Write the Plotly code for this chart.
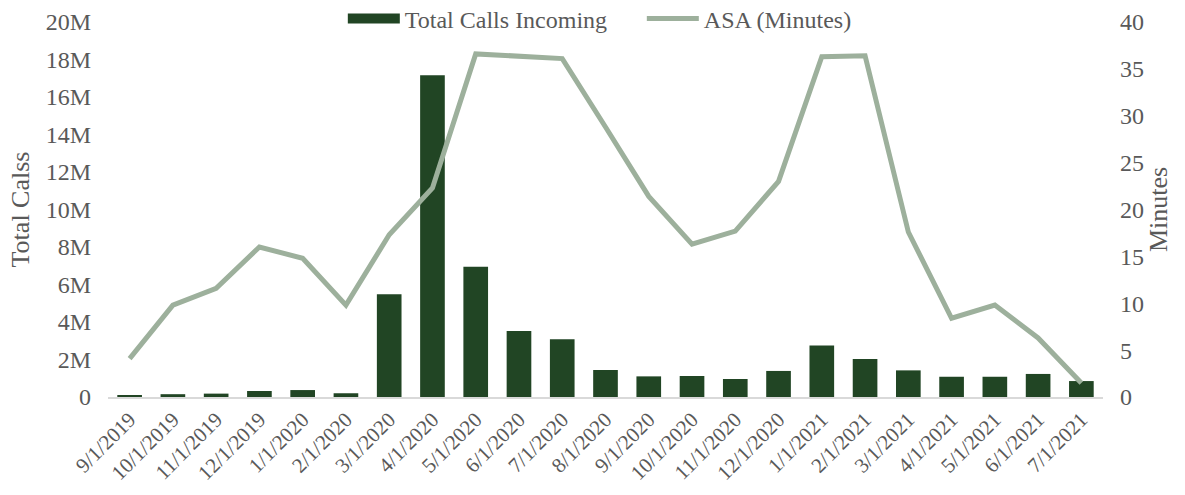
import plotly.graph_objects as go

months = ["9/1/2019", "10/1/2019", "11/1/2019", "12/1/2019", "1/1/2020", "2/1/2020",
          "3/1/2020", "4/1/2020", "5/1/2020", "6/1/2020", "7/1/2020", "8/1/2020",
          "9/1/2020", "10/1/2020", "11/1/2020", "12/1/2020", "1/1/2021", "2/1/2021",
          "3/1/2021", "4/1/2021", "5/1/2021", "6/1/2021", "7/1/2021"]
total_calls = [0.10e6, 0.15e6, 0.18e6, 0.32e6, 0.37e6, 0.20e6,
               5.48e6, 17.16e6, 6.95e6, 3.52e6, 3.08e6, 1.44e6,
               1.10e6, 1.12e6, 0.96e6, 1.39e6, 2.74e6, 2.03e6,
               1.42e6, 1.08e6, 1.08e6, 1.23e6, 0.85e6]
asa_minutes = [4.1, 9.8, 11.6, 16.0, 14.8, 9.8,
               17.3, 22.3, 36.6, 36.3, 36.1, 28.8,
               21.4, 16.3, 17.7, 23.0, 36.3, 36.4,
               17.6, 8.4, 9.8, 6.3, 1.5]
left_ticks = [0, 2e6, 4e6, 6e6, 8e6, 10e6, 12e6, 14e6, 16e6, 18e6, 20e6]
left_labels = ["0", "2M", "4M", "6M", "8M", "10M", "12M", "14M", "16M", "18M", "20M"]
right_ticks = [0, 5, 10, 15, 20, 25, 30, 35, 40]

FONT = "Liberation Serif, Times New Roman, serif"
GREY = "#595959"
BAR_COLOR = "#214524"
LINE_COLOR = "#9DB09C"

W, H = 1185, 495

fig = go.Figure()
fig.add_trace(go.Bar(x=months, y=total_calls, name="Total Calls Incoming",
                     marker=dict(color=BAR_COLOR, line=dict(width=0)), yaxis="y",
                     showlegend=False, legendgroup="calls"))
# legend proxy so the legend key is a wide rectangle like the original
fig.add_trace(go.Scatter(x=[None], y=[None], name="Total Calls Incoming", mode="lines",
                         line=dict(color=BAR_COLOR, width=12), legendgroup="calls",
                         showlegend=True, yaxis="y"))
fig.add_trace(go.Scatter(x=months, y=asa_minutes, name="ASA (Minutes)", mode="lines",
                         line=dict(color=LINE_COLOR, width=5), yaxis="y2"))

fig.update_layout(
    width=W, height=H,
    margin=dict(l=108, r=82, t=22, b=98, autoexpand=False),
    plot_bgcolor="white", paper_bgcolor="white",
    font=dict(family=FONT, color=GREY, size=24),
    bargap=0.43,
    showlegend=True,
    legend=dict(orientation="h", x=0.236, xanchor="left", yref="container",
                y=1 - 19 / H, yanchor="middle", entrywidth=232,
                font=dict(size=24, color=GREY), bgcolor="rgba(0,0,0,0)", itemwidth=52),
    xaxis=dict(type="category", tickangle=-45, tickfont=dict(size=21, color=GREY),
               showgrid=False, showline=True, linecolor="#D9D9D9", linewidth=2,
               ticks="", zeroline=False),
    yaxis=dict(range=[0, 20e6], tickvals=left_ticks, ticktext=left_labels,
               showgrid=False, zeroline=False, showline=False, ticks="",
               tickfont=dict(size=24, color=GREY), ticklabelstandoff=16,
               title=dict(text="Total Calss", font=dict(size=26, color=GREY), standoff=8)),
    yaxis2=dict(range=[0, 40], tickvals=right_ticks, overlaying="y", side="right",
                showgrid=False, zeroline=False, showline=False, ticks="",
                tickfont=dict(size=24, color=GREY), ticklabelstandoff=16,
                title=dict(text="Minutes", font=dict(size=26, color=GREY), standoff=4)),
)

# remove the browser's default 8px body margin so the figure fills the window exactly
fig.write_html("out.html", config={"displayModeBar": False},
               post_script="document.body.style.margin='0';")
